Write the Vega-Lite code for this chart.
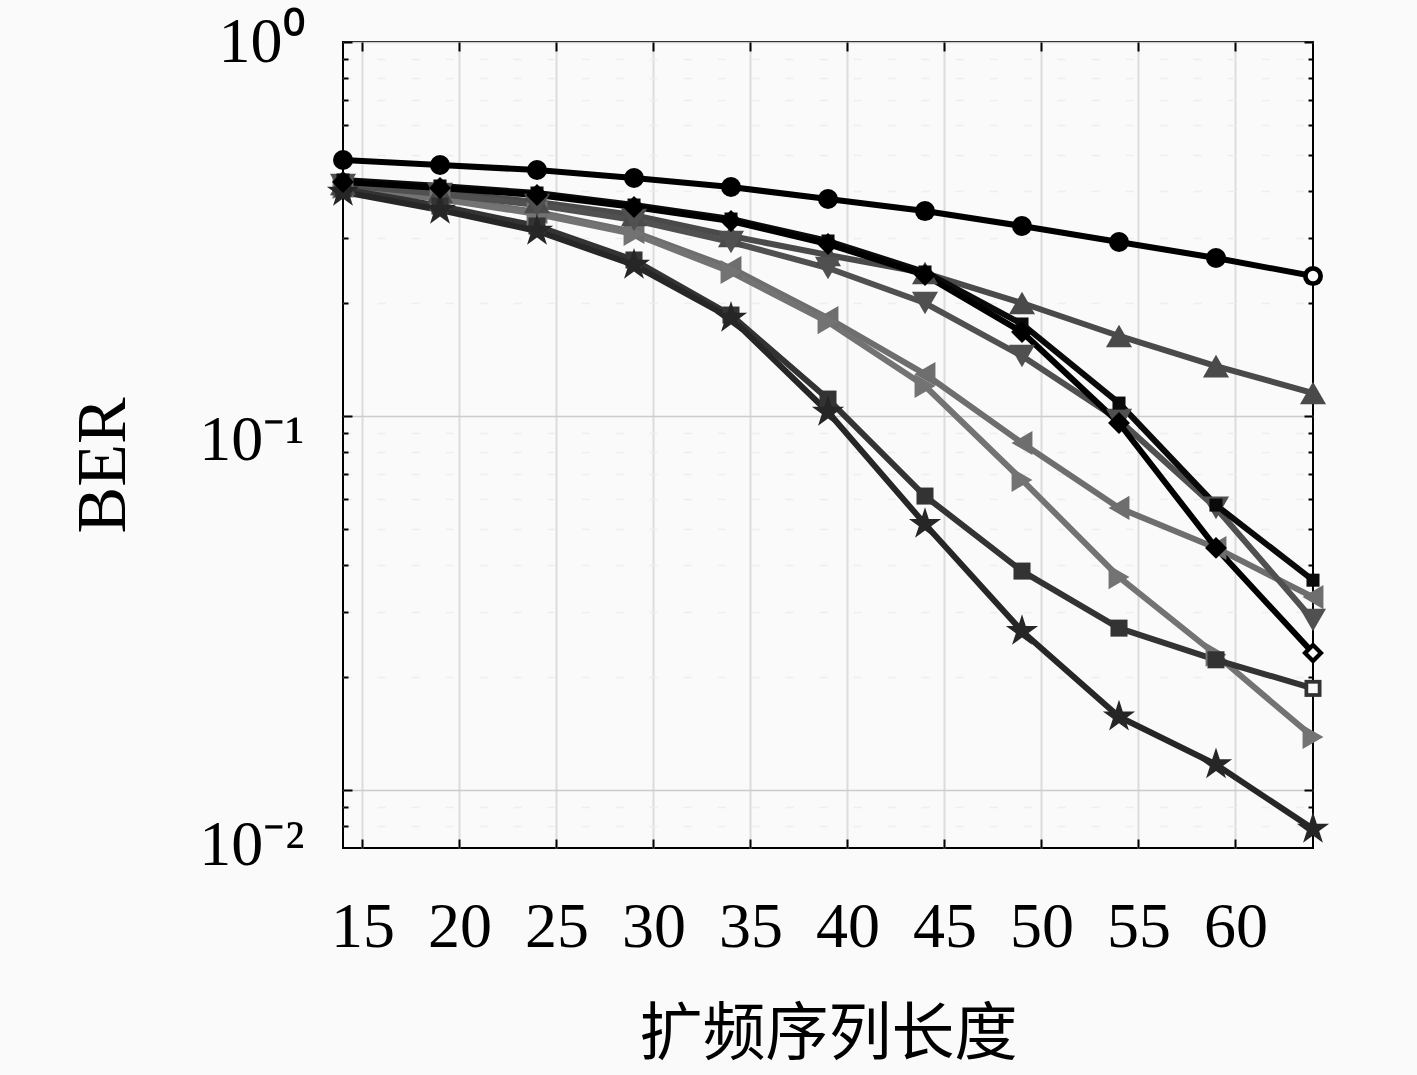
{
  "$schema": "https://vega.github.io/schema/vega-lite/v6.json",
  "description": "BER vs spreading sequence length, log scale",
  "width": 970,
  "height": 806,
  "autosize": "none",
  "padding": {"left": 343, "top": 42, "right": 104, "bottom": 227},
  "background": "#fafafa",
  "config": {
    "view": {"stroke": "#000000", "strokeWidth": 2},
    "axis": {
      "labelFont": "Liberation Serif",
      "labelColor": "#000000",
      "titleColor": "#000000",
      "tickColor": "#000000",
      "tickWidth": 2,
      "domain": false,
      "labelOverlap": false,
      "labelFlush": false
    }
  },
  "data": {
    "values": [
      {"s": "s1", "x": 14, "ber": 0.4121}, {"s": "s1", "x": 19, "ber": 0.3828}, {"s": "s1", "x": 24, "ber": 0.3511}, {"s": "s1", "x": 29, "ber": 0.3104}, {"s": "s1", "x": 34, "ber": 0.2487}, {"s": "s1", "x": 39, "ber": 0.1828}, {"s": "s1", "x": 44, "ber": 0.1295}, {"s": "s1", "x": 49, "ber": 0.0847}, {"s": "s1", "x": 54, "ber": 0.0568}, {"s": "s1", "x": 59, "ber": 0.0444}, {"s": "s1", "x": 64, "ber": 0.0328},
      {"s": "s2", "x": 14, "ber": 0.4095}, {"s": "s2", "x": 19, "ber": 0.3803}, {"s": "s2", "x": 24, "ber": 0.3468}, {"s": "s2", "x": 29, "ber": 0.3066}, {"s": "s2", "x": 34, "ber": 0.2427}, {"s": "s2", "x": 39, "ber": 0.1783}, {"s": "s2", "x": 44, "ber": 0.1203}, {"s": "s2", "x": 49, "ber": 0.0675}, {"s": "s2", "x": 54, "ber": 0.0371}, {"s": "s2", "x": 59, "ber": 0.0230}, {"s": "s2", "x": 64, "ber": 0.01386},
      {"s": "s3", "x": 14, "ber": 0.4172}, {"s": "s3", "x": 19, "ber": 0.3971}, {"s": "s3", "x": 24, "ber": 0.3734}, {"s": "s3", "x": 29, "ber": 0.3446}, {"s": "s3", "x": 34, "ber": 0.3029}, {"s": "s3", "x": 39, "ber": 0.2695}, {"s": "s3", "x": 44, "ber": 0.2412}, {"s": "s3", "x": 49, "ber": 0.2005}, {"s": "s3", "x": 54, "ber": 0.1637}, {"s": "s3", "x": 59, "ber": 0.1360}, {"s": "s3", "x": 64, "ber": 0.1152},
      {"s": "s4", "x": 14, "ber": 0.4146}, {"s": "s4", "x": 19, "ber": 0.3923}, {"s": "s4", "x": 24, "ber": 0.3665}, {"s": "s4", "x": 29, "ber": 0.3342}, {"s": "s4", "x": 34, "ber": 0.2919}, {"s": "s4", "x": 39, "ber": 0.2487}, {"s": "s4", "x": 44, "ber": 0.2005}, {"s": "s4", "x": 49, "ber": 0.1447}, {"s": "s4", "x": 54, "ber": 0.0976}, {"s": "s4", "x": 59, "ber": 0.0568}, {"s": "s4", "x": 64, "ber": 0.0285},
      {"s": "s5", "x": 14, "ber": 0.4046}, {"s": "s5", "x": 19, "ber": 0.3643}, {"s": "s5", "x": 24, "ber": 0.3221}, {"s": "s5", "x": 29, "ber": 0.2613}, {"s": "s5", "x": 34, "ber": 0.1862}, {"s": "s5", "x": 39, "ber": 0.1110}, {"s": "s5", "x": 44, "ber": 0.0611}, {"s": "s5", "x": 49, "ber": 0.0385}, {"s": "s5", "x": 54, "ber": 0.0271}, {"s": "s5", "x": 59, "ber": 0.0223}, {"s": "s5", "x": 64, "ber": 0.0187},
      {"s": "s6", "x": 14, "ber": 0.3971}, {"s": "s6", "x": 19, "ber": 0.3554}, {"s": "s6", "x": 24, "ber": 0.3124}, {"s": "s6", "x": 29, "ber": 0.2534}, {"s": "s6", "x": 34, "ber": 0.1828}, {"s": "s6", "x": 39, "ber": 0.1025}, {"s": "s6", "x": 44, "ber": 0.0514}, {"s": "s6", "x": 49, "ber": 0.0266}, {"s": "s6", "x": 54, "ber": 0.0157}, {"s": "s6", "x": 59, "ber": 0.0117}, {"s": "s6", "x": 64, "ber": 0.00787},
      {"s": "s7", "x": 14, "ber": 0.4276}, {"s": "s7", "x": 19, "ber": 0.4121}, {"s": "s7", "x": 24, "ber": 0.3947}, {"s": "s7", "x": 29, "ber": 0.3665}, {"s": "s7", "x": 34, "ber": 0.3363}, {"s": "s7", "x": 39, "ber": 0.2937}, {"s": "s7", "x": 44, "ber": 0.2427}, {"s": "s7", "x": 49, "ber": 0.1762}, {"s": "s7", "x": 54, "ber": 0.1083}, {"s": "s7", "x": 59, "ber": 0.0578}, {"s": "s7", "x": 64, "ber": 0.0364},
      {"s": "s8", "x": 14, "ber": 0.4223}, {"s": "s8", "x": 19, "ber": 0.4070}, {"s": "s8", "x": 24, "ber": 0.3899}, {"s": "s8", "x": 29, "ber": 0.3621}, {"s": "s8", "x": 34, "ber": 0.3322}, {"s": "s8", "x": 39, "ber": 0.2883}, {"s": "s8", "x": 44, "ber": 0.2382}, {"s": "s8", "x": 49, "ber": 0.1677}, {"s": "s8", "x": 54, "ber": 0.0958}, {"s": "s8", "x": 59, "ber": 0.0444}, {"s": "s8", "x": 64, "ber": 0.02325},
      {"s": "s9", "x": 14, "ber": 0.4836}, {"s": "s9", "x": 19, "ber": 0.4690}, {"s": "s9", "x": 24, "ber": 0.4547}, {"s": "s9", "x": 29, "ber": 0.4328}, {"s": "s9", "x": 34, "ber": 0.4095}, {"s": "s9", "x": 39, "ber": 0.3803}, {"s": "s9", "x": 44, "ber": 0.3532}, {"s": "s9", "x": 49, "ber": 0.3221}, {"s": "s9", "x": 54, "ber": 0.2919}, {"s": "s9", "x": 59, "ber": 0.2645}, {"s": "s9", "x": 64, "ber": 0.2367}
    ]
  },
  "layer": [
    {
      "mark": {"type": "line", "strokeWidth": 6, "strokeJoin": "round", "clip": true},
      "encoding": {
        "x": {
          "field": "x", "type": "quantitative",
          "scale": {"domain": [14, 64], "nice": false, "zero": false},
          "axis": {
            "orient": "bottom",
            "values": [15, 20, 25, 30, 35, 40, 45, 50, 55, 60],
            "title": "扩频序列长度",
            "titleFont": "Noto Sans CJK SC",
            "titleFontSize": 63,
            "titleFontWeight": "normal",
            "titleBaseline": "middle",
            "titleY": 186,
            "labelFontSize": 64,
            "labelPadding": 56,
            "tickSize": -9,
            "grid": true,
            "gridColor": "#dcdcdc",
            "gridWidth": 2
          }
        },
        "y": {
          "field": "ber", "type": "quantitative",
          "scale": {"type": "log", "domain": [0.007, 1], "nice": false},
          "axis": {
            "orient": "left",
            "values": [1, 0.9, 0.8, 0.7, 0.6, 0.5, 0.4, 0.3, 0.2, 0.1, 0.09, 0.08, 0.07, 0.06, 0.05, 0.04, 0.03, 0.02, 0.01, 0.009, 0.008],
            "labelExpr": "datum.value == 1 ? '10⁰' : datum.value == 0.1 ? '10⁻¹' : datum.value == 0.01 ? '10⁻²' : ''",
            "labelFontSize": 64,
            "labelPadding": 48,
            "labelOffset": {"condition": [{"test": "datum.value == 0.1", "value": 24}, {"test": "datum.value == 0.01", "value": 55}], "value": 0},
            "tickSize": {"condition": {"test": "datum.value == 1 || datum.value == 0.1 || datum.value == 0.01", "value": -9}, "value": -5},
            "grid": true,
            "gridColor": {"condition": {"test": "datum.value == 1 || datum.value == 0.1 || datum.value == 0.01", "value": "#cccccc"}, "value": "#eeeeee"},
            "gridDash": {"condition": {"test": "datum.value == 1 || datum.value == 0.1 || datum.value == 0.01", "value": []}, "value": [8, 26]},
            "gridWidth": 1.5,
            "title": "BER",
            "titleFont": "Liberation Serif",
            "titleFontSize": 70,
            "titleFontWeight": "normal",
            "titleBaseline": "middle",
            "titleX": -240,
            "titleY": 423
          }
        },
        "color": {
          "field": "s", "type": "nominal", "legend": null,
          "scale": {
            "domain": ["s1", "s2", "s3", "s4", "s5", "s6", "s7", "s8", "s9"],
            "range": ["#6e6e6e", "#737373", "#4a4a4a", "#505050", "#333333", "#262626", "#0a0a0a", "#000000", "#000000"]
          }
        }
      }
    },
    {
      "mark": {"type": "point", "filled": true, "opacity": 1},
      "encoding": {
        "x": {
          "field": "x", "type": "quantitative",
          "axis": {"orient": "top", "values": [15, 20, 25, 30, 35, 40, 45, 50, 55, 60], "labels": false, "title": null, "tickSize": -9, "grid": false}
        },
        "y": {
          "field": "ber", "type": "quantitative",
          "axis": {
            "orient": "right",
            "values": [1, 0.9, 0.8, 0.7, 0.6, 0.5, 0.4, 0.3, 0.2, 0.1, 0.09, 0.08, 0.07, 0.06, 0.05, 0.04, 0.03, 0.02, 0.01, 0.009, 0.008],
            "labels": false, "title": null, "grid": false,
            "tickSize": {"condition": {"test": "datum.value == 1 || datum.value == 0.1 || datum.value == 0.01", "value": -9}, "value": -5}
          }
        },
        "color": {"field": "s", "type": "nominal", "legend": null},
        "shape": {
          "field": "s", "type": "nominal", "legend": null,
          "scale": {
            "domain": ["s1", "s2", "s3", "s4", "s5", "s6", "s7", "s8", "s9"],
            "range": ["triangle-left", "triangle-right", "triangle-up", "triangle-down", "square", "M0,-1L0.2245,-0.309L0.9511,-0.309L0.3633,0.118L0.5878,0.809L0,0.382L-0.5878,0.809L-0.3633,0.118L-0.9511,-0.309L-0.2245,-0.309Z", "square", "diamond", "circle"]
          }
        },
        "size": {
          "field": "s", "type": "nominal", "legend": null,
          "scale": {
            "type": "ordinal",
            "domain": ["s1", "s2", "s3", "s4", "s5", "s6", "s7", "s8", "s9"],
            "range": [580, 580, 680, 680, 290, 1150, 170, 480, 400]
          }
        }
      }
    },
    {
      "transform": [{"filter": "datum.x == 64 && (datum.s == 's5' || datum.s == 's8' || datum.s == 's9')"}],
      "mark": {"type": "point", "filled": true, "opacity": 1, "color": "#fafafa"},
      "encoding": {
        "x": {"field": "x", "type": "quantitative", "axis": null},
        "y": {"field": "ber", "type": "quantitative", "axis": null},
        "shape": {"field": "s", "type": "nominal", "legend": null},
        "size": {"condition": [{"test": "datum.s == 's9'", "value": 110}, {"test": "datum.s == 's8'", "value": 100}], "value": 90}
      }
    }
  ],
  "resolve": {"axis": {"x": "independent", "y": "independent"}}
}
